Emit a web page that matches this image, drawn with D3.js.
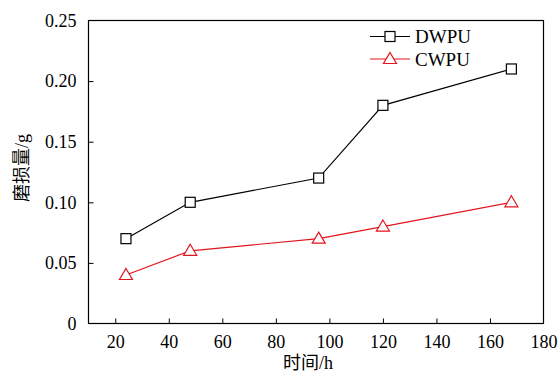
<!DOCTYPE html>
<html>
<head>
<meta charset="utf-8">
<script src="https://cdn.jsdelivr.net/npm/d3@7"></script>
<style>
  body { margin: 0; background: #fff; }
  svg text { font-family: "Liberation Serif", "Noto Sans CJK SC", serif; fill: #000; }
</style>
</head>
<body>
<div id="chart"></div>
<script>
const hours = [24, 48, 96, 120, 168];
const dwpu = [0.07, 0.10, 0.12, 0.18, 0.21];
const cwpu = [0.04, 0.06, 0.07, 0.08, 0.10];
const xTicks = [20, 40, 60, 80, 100, 120, 140, 160, 180];
const yTicks = [0, 0.05, 0.10, 0.15, 0.20, 0.25];

const width = 559, height = 373;
const m = { left: 88.5, right: 543.5, top: 20.5, bottom: 323.5 };

const svg = d3.select("#chart").append("svg")
    .attr("width", width)
    .attr("height", height)

const x = d3.scaleLinear().domain([10, 180]).range([m.left, m.right])
const y = d3.scaleLinear().domain([0, 0.25]).range([m.bottom, m.top])

// frame
svg.append("rect")
    .attr("x", m.left).attr("y", m.top)
    .attr("width", m.right - m.left).attr("height", m.bottom - m.top)
    .attr("fill", "none").attr("stroke", "#000").attr("stroke-width", 1.2)

const xAxis = svg.append("g")
    .attr("transform", `translate(0,${m.bottom})`)
    .call(d3.axisBottom(x).tickValues(xTicks).tickSizeInner(-5).tickSizeOuter(0).tickPadding(12))
xAxis.select(".domain").remove()
xAxis.selectAll("text").style("font-size", "18px").style("font-family", "'Liberation Serif', serif")

const yAxis = svg.append("g")
    .attr("transform", `translate(${m.left},0)`)
    .call(d3.axisLeft(y).tickValues(yTicks).tickSizeInner(-5).tickSizeOuter(0).tickPadding(12)
        .tickFormat(d => d === 0 ? "0" : d3.format(".2f")(d)))
yAxis.select(".domain").remove()
yAxis.selectAll("text").style("font-size", "18px").style("font-family", "'Liberation Serif', serif")
yAxis.selectAll("line").filter(d => d === 0 || d === 0.25).remove()
xAxis.selectAll("line").filter(d => d === 180).remove()

// axis titles
svg.append("text")
    .attr("x", 308).attr("y", 369)
    .attr("text-anchor", "middle").style("font-size", "18px")
    .text("时间/h")

svg.append("text")
    .attr("transform", "translate(28,168) rotate(-90)")
    .attr("text-anchor", "middle").style("font-size", "18px")
    .text("磨损量/g")

const line = d3.line().x(d => x(d[0])).y(d => y(d[1]))

const series = [
    { name: "DWPU", values: dwpu, color: "#000", shape: "square" },
    { name: "CWPU", values: cwpu, color: "#e3141e", shape: "triangle" },
]

function marker(g, s, cx, cy) {
    if (s.shape === "square") {
        g.append("rect")
            .attr("x", cx - 5).attr("y", cy - 5)
            .attr("width", 10).attr("height", 10)
            .attr("fill", "#fff").attr("stroke", s.color).attr("stroke-width", 1.2)
    } else {
        g.append("path")
            .attr("d", `M${cx},${cy - 6.5}L${cx + 6.5},${cy + 4.5}L${cx - 6.5},${cy + 4.5}Z`)
            .attr("fill", "#fff").attr("stroke", s.color).attr("stroke-width", 1.2)
    }
}

series.forEach(s => {
    const pts = hours.map((h, i) => [h, s.values[i]])
    svg.append("path")
        .attr("d", line(pts))
        .attr("fill", "none").attr("stroke", s.color).attr("stroke-width", 1.2)
    const g = svg.append("g")
    pts.forEach(p => marker(g, s, x(p[0]), y(p[1])))
})

// legend
series.forEach((s, i) => {
    const ly = 36.5 + i * 22.5
    const g = svg.append("g")
    g.append("line")
        .attr("x1", 370).attr("x2", 410).attr("y1", ly).attr("y2", ly)
        .attr("stroke", s.color).attr("stroke-width", 1.2)
    marker(g, s, 390, ly)
    g.append("text")
        .attr("x", 415).attr("y", ly + 6.5)
        .style("font-size", "19px")
        .text(s.name)
})
</script>
</body>
</html>
